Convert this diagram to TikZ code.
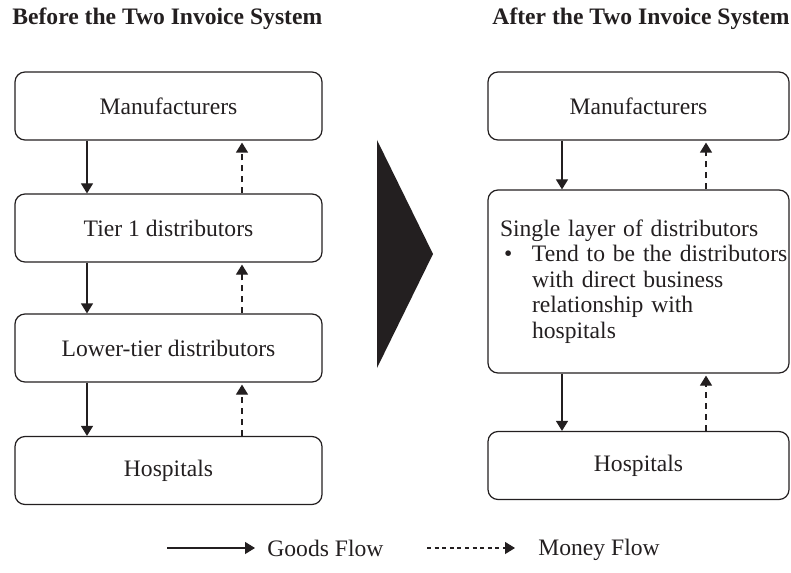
\documentclass[tikz,border=0pt]{standalone}
\usepackage{fontspec}
\setmainfont{Liberation Serif}
\usetikzlibrary{arrows.meta}
\definecolor{ink}{HTML}{231F20}

\tikzset{
	flowbox/.style={draw=ink, line width=0.6pt, rounded corners=5pt, minimum height=34pt, inner sep=0pt},
	goods/.style={draw=ink, line width=0.6pt, -{Triangle[length=5pt,width=6pt]}},
	money/.style={goods, dash pattern=on 3pt off 2.5pt},
	legmoney/.style={goods, dash pattern=on 2pt off 1.8pt}
}

\begin{document}
\begin{tikzpicture}[x=0.5pt, y=-0.5pt, font=\fontsize{11.8}{12.8}\selectfont, text=ink]

	\useasboundingbox (0,0) rectangle (791,572);

	\node[font=\fontsize{11.8}{12.8}\selectfont\bfseries, anchor=west, inner sep=0pt] (titleL) at (12,19) {Before the Two Invoice System};
	\node[font=\fontsize{11.8}{12.8}\selectfont\bfseries, anchor=east, inner sep=0pt] (titleR) at (790,19) {After the Two Invoice System};

	% before
	\node[flowbox, minimum width=153.5pt] (manL) at (168.5,106) {Manufacturers};
	\node[flowbox, minimum width=153.5pt] (tierL) at (168.5,228) {Tier 1 distributors};
	\node[flowbox, minimum width=153.5pt] (lowL) at (168.5,348) {Lower-tier distributors};
	\node[flowbox, minimum width=153.5pt] (hospL) at (168.5,470.5) {Hospitals};

	\coordinate (gL) at (87,0);
	\coordinate (mL) at (242,0);
	\draw[goods] (manL.south -| gL) -- (tierL.north -| gL);
	\draw[goods] (tierL.south -| gL) -- (lowL.north -| gL);
	\draw[goods] (lowL.south -| gL) -- (hospL.north -| gL);
	\draw[money] (tierL.north -| mL) -- ([yshift=-1pt]manL.south -| mL);
	\draw[money] (lowL.north -| mL) -- ([yshift=-1pt]tierL.south -| mL);
	\draw[money] (hospL.north -| mL) -- ([yshift=-1pt]lowL.south -| mL);

	% big arrow
	\fill[ink] (377,140) -- (433,254) -- (377,368) -- cycle;

	% after
	\node[flowbox, minimum width=150.5pt] (manR) at (638.5,106) {Manufacturers};
	\node[flowbox, minimum height=91.5pt, text width=150.5pt, align=left] (singleR) at (638.5,281.5)
		{\hspace*{6pt}Single layer of distributors\\
		\hspace*{6pt}\makebox[16pt][l]{\hspace{2pt}\textbullet}Tend to be the distributors\\
		\hspace*{22pt}with direct business\\
		\hspace*{22pt}relationship with\\
		\hspace*{22pt}hospitals};
	\node[flowbox, minimum width=150.5pt] (hospR) at (638.5,465.5) {Hospitals};

	\coordinate (gR) at (562,0);
	\coordinate (mR) at (706,0);
	\draw[goods] (manR.south -| gR) -- (singleR.north -| gR);
	\draw[goods] (singleR.south -| gR) -- (hospR.north -| gR);
	\draw[money] (singleR.north -| mR) -- ([yshift=-1pt]manR.south -| mR);
	\draw[money] (hospR.north -| mR) -- ([yshift=-1pt]singleR.south -| mR);

	% legend
	\node[anchor=west, inner sep=0pt] (goodsT) at (267,548) {Goods Flow};
	\node[anchor=west, inner sep=0pt] (moneyT) at (538,550) {Money Flow};
	\coordinate (goodsS) at (167,548);
	\coordinate (moneyS) at (427,548);
	\draw[goods] (goodsS) -- ([xshift=-6pt]goodsT.west);
	\draw[legmoney] (moneyS) -- (moneyS -| 515,0);

\end{tikzpicture}
\end{document}
